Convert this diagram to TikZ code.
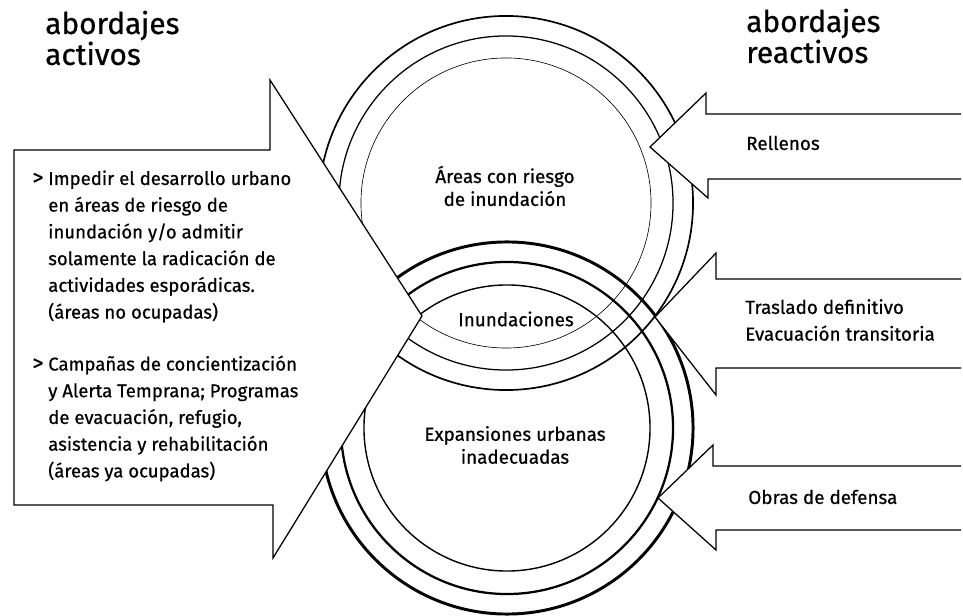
\documentclass[tikz,border=0pt]{standalone}
\usepackage{fontspec}
\setmainfont{Fira Sans}[FakeBold=0.6]
\newcommand{\pto}{\llap{\fontsize{15.5}{19}\selectfont>\hspace{3.5pt}}}

\begin{document}
\begin{tikzpicture}[x=0.025cm,y=-0.025cm,
  txt/.style={font=\fontsize{13.2}{19}\selectfont,inner sep=0pt,align=left},
  head/.style={font=\fontsize{21.2}{22}\selectfont,inner sep=0pt,align=left,anchor=west},
  flecha/.style={draw,fill=white,line width=0.9pt,line join=miter}]
\useasboundingbox (0,0) rectangle (963,616);
% areas con riesgo (upper rings)
\draw[line width=1.2pt] (506,203) circle[radius=4.675cm];
\draw[line width=0.9pt] (506,203) circle[radius=4.175cm];
\draw[line width=0.45pt] (506,203) circle[radius=3.625cm];
% expansiones urbanas (lower rings)
\draw[line width=2.1pt] (507,428) circle[radius=4.65cm];
\draw[line width=1.6pt] (507,428) circle[radius=4.15cm];
\draw[line width=1.0pt] (507,428) circle[radius=3.575cm];
% active approaches
\filldraw[flecha] (14,150) -- (270,150) -- (270,80) -- (422,316) -- (273,558)
  -- (273,505) -- (14,505) -- cycle;
% reactive approaches
\filldraw[flecha] (961,114) -- (706,114) -- (706,93) -- (650,147) -- (708,198)
  -- (708,179) -- (961,179);
\filldraw[flecha] (961,279) -- (716,279) -- (716,253) -- (655,317) -- (716,395)
  -- (716,368) -- (961,368);
\filldraw[flecha] (961,466) -- (713,466) -- (713,445) -- (658,498) -- (716,550)
  -- (716,530) -- (961,530);
% headings
\node[head] (activos) at (45,38) {abordajes\\activos};
\node[head] (reactivos) at (746,36) {abordajes\\reactivos};
% ring labels
\node[txt,align=center,font=\fontsize{13.4}{16.3}\selectfont] (riesgo) at (505,186)
  {Áreas con riesgo\\de inundación};
\node[txt,font=\fontsize{13.4}{16.3}\selectfont] (inundaciones) at (516,319) {Inundaciones};
\node[txt,align=center,font=\fontsize{13.4}{16.3}\selectfont] (expansiones) at (515,445)
  {Expansiones urbanas\\inadecuadas};
% text in the arrows
\node[txt,anchor=west] (impedir) at (48,246.5)
  {\pto Impedir el desarrollo urbano\\en áreas de riesgo de\\inundación y/o admitir\\solamente la radicación de\\actividades esporádicas.\\(áreas no ocupadas)};
\node[txt,anchor=west] (campanas) at (48,418.5)
  {\pto Campañas de concientización\\y Alerta Temprana; Programas\\de evacuación, refugio,\\asistencia y rehabilitación\\(áreas ya ocupadas)};
\node[txt,anchor=west,font=\fontsize{13.4}{19}\selectfont] (rellenos) at (746,143) {Rellenos};
\node[txt,anchor=west,font=\fontsize{13.4}{19}\selectfont] (traslado) at (745,320)
  {Traslado definitivo\\Evacuación transitoria};
\node[txt,anchor=west,font=\fontsize{13.4}{19}\selectfont] (obras) at (748,497) {Obras de defensa};
\end{tikzpicture}
\end{document}
